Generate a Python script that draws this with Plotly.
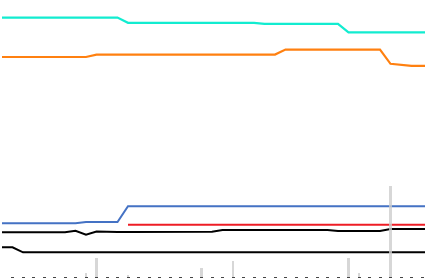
import plotly.graph_objects as go

# day index 0..41
days = list(range(42))

def steps(segments):
    out = []
    for val, count in segments:
        out += [val] * count
    return out

cyan = steps([(130.2, 12), (127.6, 13), (127.1, 8), (122.8, 9)])
orange = steps([(110.5, 9), (111.7, 18), (114.2, 10), (107.1, 1), (106.6, 1), (106.1, 3)])
blue = steps([(27.4, 8), (28.0, 4), (35.85, 30)])
red = steps([(None, 12), (26.65, 30)])
black1 = steps([(22.85, 7), (23.65, 1), (21.65, 1), (23.25, 1), (23.0, 10), (23.15, 1),
                (24.0, 11), (23.5, 5), (24.5, 5)])
black2 = steps([(15.35, 2), (12.85, 40)])

bar_days = [8, 9, 12, 19, 22, 33, 34, 37]
bar_vals = [2.5, 10, 1.5, 5, 8.5, 10, 2.5, 46]

fig = go.Figure()
series = [
    (cyan, "#12ecd0", 2.2),
    (orange, "#ff8010", 2.2),
    (blue, "#4472c4", 2),
    (red, "#ee1c25", 2),
    (black1, "#000000", 2),
    (black2, "#000000", 2),
]
for ys, col, w in series:
    fig.add_trace(go.Scatter(x=days, y=ys, mode="lines",
                             line=dict(color=col, width=w), showlegend=False,
                             connectgaps=False, hoverinfo="skip"))

fig.add_trace(go.Bar(x=bar_days, y=bar_vals, yaxis="y2", width=0.2,
                     marker=dict(color="rgba(205,205,205,0.8)", line=dict(width=0)),
                     showlegend=False, hoverinfo="skip"))

fig.update_layout(
    width=428, height=278,
    margin=dict(l=2, r=3, t=0, b=0),
    paper_bgcolor="white", plot_bgcolor="white",
    xaxis=dict(range=[0, 423 / 10.5], showgrid=False, zeroline=False,
               showticklabels=False, ticks="inside", ticklen=1, tickwidth=2.5,
               tickcolor="#444", dtick=1, tick0=0, showline=False),
    yaxis=dict(range=[0, 139], visible=False, showgrid=False, zeroline=False),
    yaxis2=dict(range=[0, 139], overlaying="y", visible=False, showgrid=False,
                zeroline=False),
    bargap=0,
)

fig.write_html("out.html")
